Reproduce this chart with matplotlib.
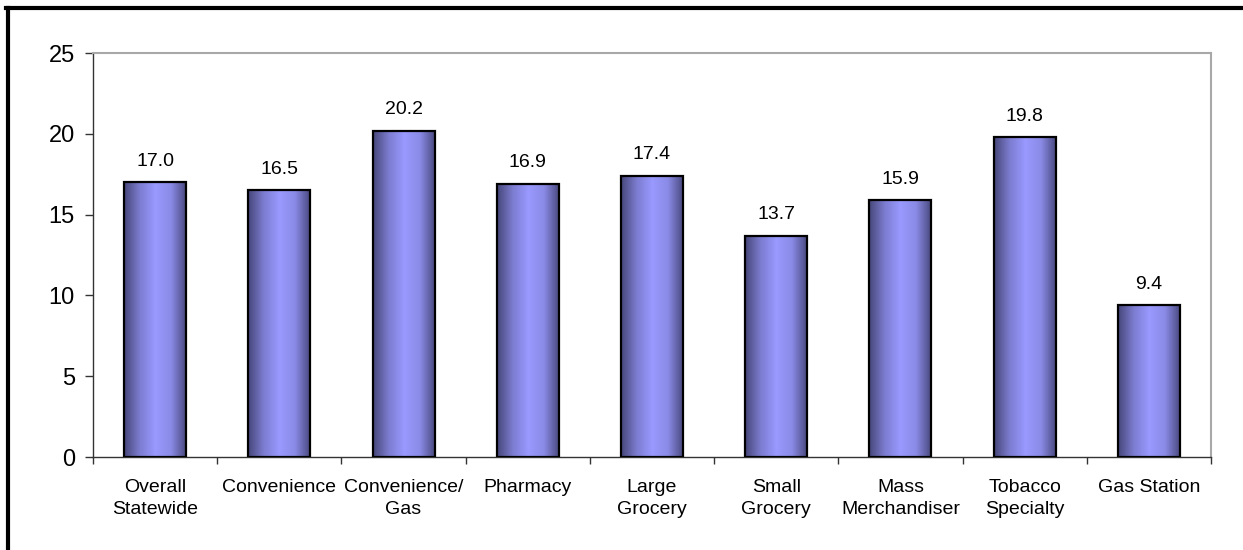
import numpy as np
import matplotlib.pyplot as plt
from matplotlib.colors import LinearSegmentedColormap
from matplotlib.lines import Line2D

plt.rcParams['font.family'] = ['Liberation Sans', 'DejaVu Sans']

categories = ['Overall\nStatewide', 'Convenience', 'Convenience/\nGas', 'Pharmacy',
              'Large\nGrocery', 'Small\nGrocery', 'Mass\nMerchandiser',
              'Tobacco\nSpecialty', 'Gas Station']
values = [17.0, 16.5, 20.2, 16.9, 17.4, 13.7, 15.9, 19.8, 9.4]

fig = plt.figure(figsize=(12.43, 5.5), dpi=100)
ax = fig.add_axes([93 / 1243, 1 - 457 / 550, (1211 - 93) / 1243, (457 - 53) / 550])

# frame round the chart (only top and left are visible in the crop)
fig.add_artist(Line2D([8 / 1243, 8 / 1243], [0, 1 - 8 / 550], color='black', lw=3, transform=fig.transFigure))
fig.add_artist(Line2D([6 / 1243, 1], [1 - 8 / 550, 1 - 8 / 550], color='black', lw=3, transform=fig.transFigure))

x = np.arange(len(categories))
bars = ax.bar(x, values, width=0.5, facecolor='none', edgecolor='black', linewidth=1.6, zorder=3)

cmap = LinearSegmentedColormap.from_list('cyl', ['#46467a', '#7c7cd0', '#9999ff', '#8a8ae6', '#46467a'])
grad = np.linspace(0, 1, 256).reshape(1, -1)
for b in bars:
    x0, w, h = b.get_x(), b.get_width(), b.get_height()
    im = ax.imshow(grad, cmap=cmap, aspect='auto', extent=[x0, x0 + w, 0, h], zorder=2)
    im.set_clip_path(b)
    ax.annotate(f'{h:.1f}', (x0 + w / 2, h), xytext=(0, 9), textcoords='offset points',
                ha='center', va='bottom', fontsize=14)

ax.set_xlim(-0.5, len(categories) - 0.5)
ax.set_ylim(0, 25)
ax.set_yticks(range(0, 26, 5))
ax.set_xticks(x)
ax.set_xticklabels(categories, fontsize=14, linespacing=1.4)
ax.set_xticks(np.arange(-0.5, len(categories), 1), minor=True)
ax.tick_params(axis='x', which='major', length=0, pad=16)
ax.tick_params(axis='x', which='minor', length=5, width=1, color='#333333')
ax.tick_params(axis='y', length=6, width=1, color='#333333', labelsize=17, pad=7)

for s in ['left', 'bottom']:
    ax.spines[s].set_color('#333333')
    ax.spines[s].set_linewidth(1)
for s in ['top', 'right']:
    ax.spines[s].set_color('#a8a8a8')
    ax.spines[s].set_linewidth(1.5)

fig.savefig('out.png', dpi=100)
